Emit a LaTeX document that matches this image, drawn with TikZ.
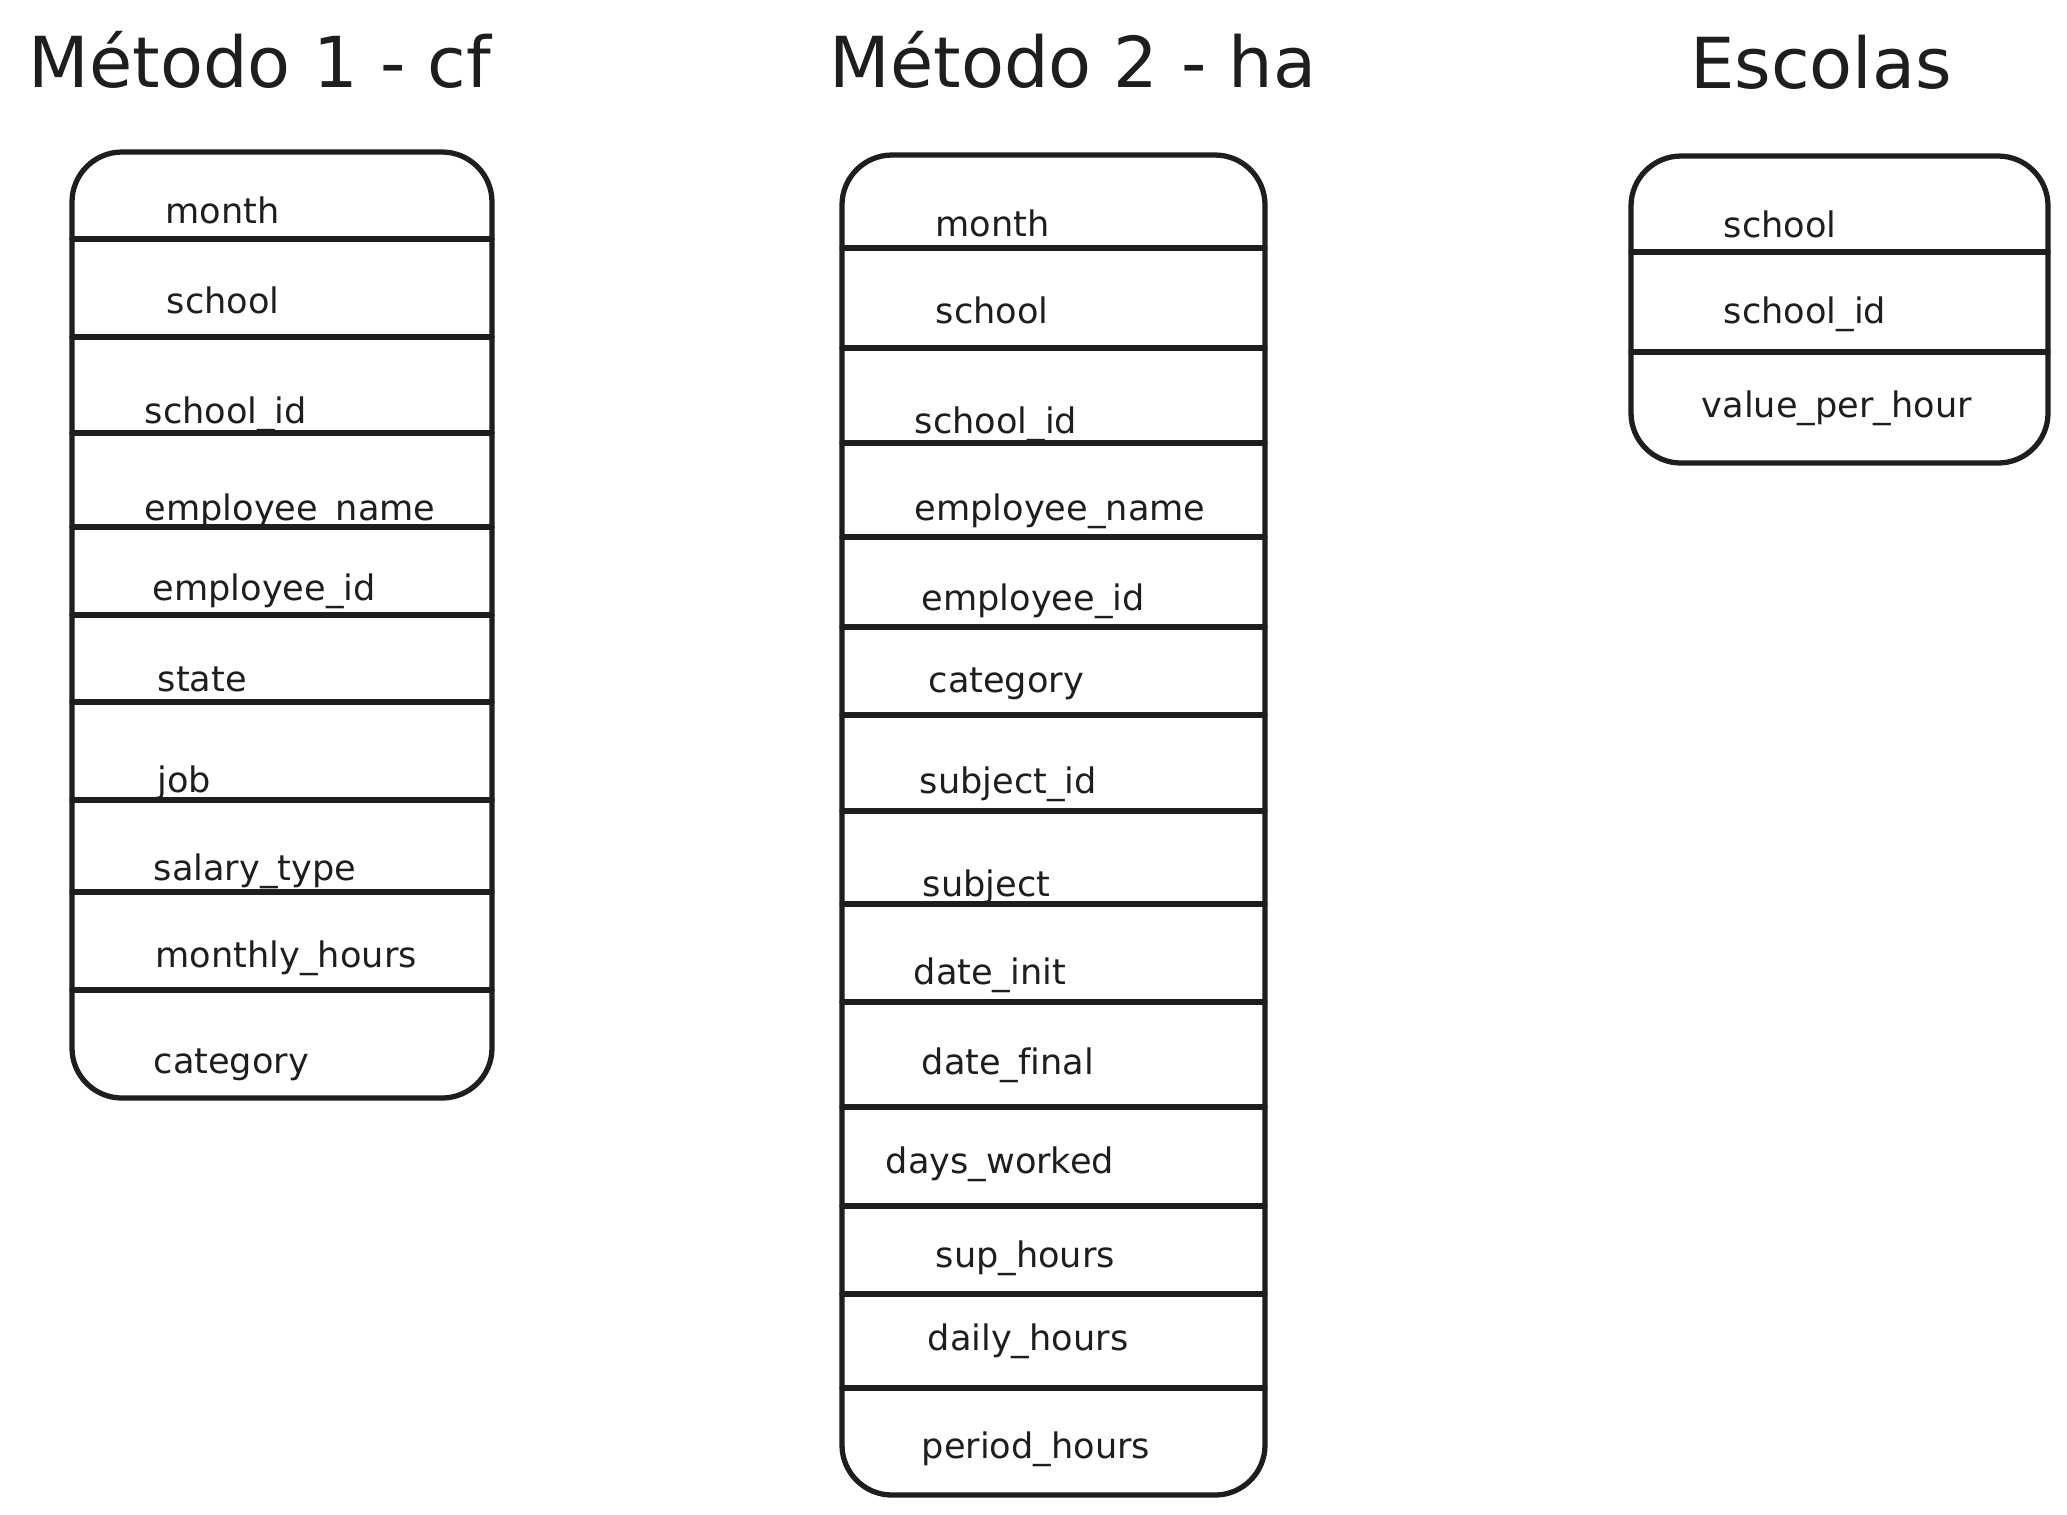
\documentclass[tikz,border=0pt]{standalone}
\usepackage{fontspec}
\setmainfont{DejaVu Sans}[Ligatures=NoCommon]
\definecolor{ink}{HTML}{1E1E1E}
\begin{document}
\begin{tikzpicture}[
		declare function = {
				cfL = 0.72;  cfR = 4.92;
				haL = 8.42;  haR = 12.65;
				esL = 16.31; esR = 20.48;
			},
		inkline/.style = {draw=ink, line width=1.5pt, line cap=round},
		tablebox/.style = {inkline, rounded corners=0.5cm},
		heading/.style = {anchor=base, text=ink, font=\fontsize{20}{24}\selectfont},
		field/.style = {anchor=base west, text=ink, inner sep=0pt, font=\fontsize{10}{12}\selectfont},
	]
	\path[use as bounding box] (0,0) rectangle (20.67,-15.14);
	\node[heading] (cf-title) at (2.60,-0.87) {Método 1 - cf};
	\node[heading] (ha-title) at (10.73,-0.87) {Método 2 - ha};
	\node[heading] (es-title) at (18.21,-0.88) {Escolas};
	\draw[tablebox] (cfL,-1.52) rectangle (cfR,-10.98);
	\draw[tablebox] (haL,-1.55) rectangle (haR,-14.95);
	\draw[tablebox] (esL,-1.56) rectangle (esR,-4.63);
	\foreach \y in {2.39,3.37,4.33,5.27,6.15,7.02,8.00,8.92,9.90}
		\draw[inkline] (cfL,-\y) -- (cfR,-\y);
	\foreach \y in {2.48,3.48,4.43,5.37,6.27,7.15,8.11,9.04,10.02,11.07,12.06,12.94,13.88}
		\draw[inkline] (haL,-\y) -- (haR,-\y);
	\foreach \y in {2.52,3.52}
		\draw[inkline] (esL,-\y) -- (esR,-\y);
	\foreach \txt/\x/\y [count=\i] in {month/1.65/2.23, school/1.66/3.13, school\_id/1.44/4.23,
			employee\_name/1.44/5.20, employee\_id/1.52/6.00, state/1.57/6.91, job/1.57/7.92,
			salary\_type/1.53/8.80, monthly\_hours/1.55/9.67, category/1.53/10.73}
		\node[field] (cf-\i) at (\x,-\y) {\txt};
	\foreach \txt/\x/\y [count=\i] in {month/9.35/2.36, school/9.35/3.23, school\_id/9.14/4.33,
			employee\_name/9.14/5.20, employee\_id/9.21/6.10, category/9.28/6.92,
			subject\_id/9.19/7.93, subject/9.22/8.96, date\_init/9.13/9.84, date\_final/9.21/10.74,
			days\_worked/8.85/11.73, sup\_hours/9.35/12.67, daily\_hours/9.27/13.50,
			period\_hours/9.21/14.58}
		\node[field] (ha-\i) at (\x,-\y) {\txt};
	\foreach \txt/\x/\y [count=\i] in {school/17.23/2.37, school\_id/17.23/3.23,
			value\_per\_hour/17.01/4.17}
		\node[field] (es-\i) at (\x,-\y) {\txt};
\end{tikzpicture}
\end{document}
